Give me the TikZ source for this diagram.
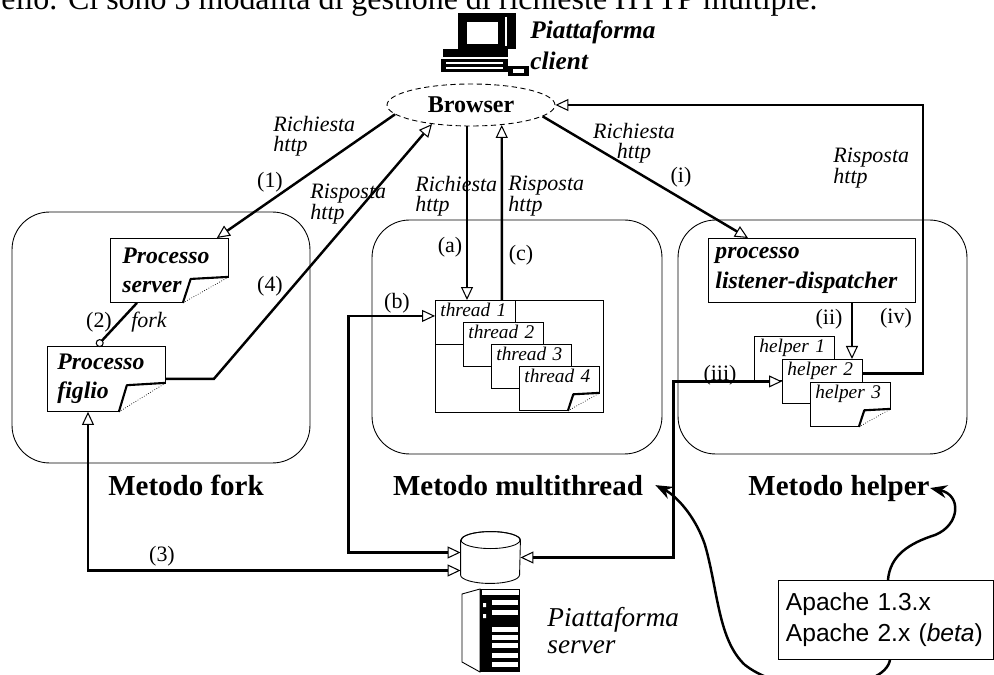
\documentclass[tikz,border=0pt]{standalone}
\usepackage{fontspec}
\setmainfont{Liberation Serif}
\setsansfont{Liberation Sans}
\usepackage{tikz}
\usetikzlibrary{arrows.meta,positioning,shapes.geometric}

% turned-up corner on a box: node, width, height (px)
\newcommand{\dogear}[3]{%
	\fill[white] ([shift={(-#2-1,1)}]#1.south east) -- ([shift={(1,1)}]#1.south east) -- ([shift={(1,-#3-1)}]#1.south east) -- cycle;
	\draw[very thick, fill=white, line join=round] ([shift={(0,-#3)}]#1.south east) -- ([shift={(-0.83*#2,-0.92*#3)}]#1.south east) -- ([shift={(-#2,0)}]#1.south east);
	\draw[densely dotted, thin] ([shift={(-#2,0)}]#1.south east) -- ([shift={(0,-#3)}]#1.south east);
}

\begin{document}
\begin{tikzpicture}[
				x=0.02cm, y=-0.02cm,
				line width=0.5pt,
				>={Triangle[fill=white, length=0.26cm, width=0.24cm, line width=0.6pt]},
				group/.style = {draw, rounded corners=0.75cm, inner sep=0pt},
				proc/.style = {draw, fill=white, anchor=north west, align=left, inner ysep=0pt, font=\fontsize{13.5}{16.5}\selectfont\bfseries\itshape},
				task/.style = {draw, fill=white, anchor=north west, align=left, inner xsep=0.1cm, inner ysep=0.04cm, text width=1.4cm, text height=0.28cm, text depth=0.52cm, font=\fontsize{11}{13}\selectfont\itshape},
				title/.style = {anchor=base, inner sep=0pt, font=\fontsize{16.5}{18}\selectfont\bfseries},
				num/.style = {inner sep=0pt, font=\fontsize{12.5}{14}\selectfont},
				msg/.style = {anchor=north west, align=left, inner sep=0pt, font=\fontsize{12.5}{11.5}\selectfont\itshape},
				send/.style = {->, line width=1.4pt},
				swap/.style = {<->, line width=1.4pt},
				call/.style = {->, line width=0.6pt},
				link/.style = {line width=1.4pt, -{Stealth[length=0.34cm, width=0.26cm]}}
				]
				\useasboundingbox (0,0) rectangle (994,675);
				\clip (0,0) rectangle (994,675);
				
				\node[anchor=base west, inner sep=0pt, font=\fontsize{18.2}{20}\selectfont] (top) at (1,10) {ello. Ci sono 3 modalità di gestione di richieste HTTP multiple.};
				
				\node[group, minimum width=5.96cm, minimum height=5.02cm] (fk) at (161,337.5) {};
				\node[group, minimum width=5.8cm, minimum height=4.68cm] (mt) at (517,337) {};
				\node[group, minimum width=5.78cm, minimum height=4.68cm] (hp) at (822.5,337) {};
				\node[title] (fkl) at (186,495) {Metodo fork};
				\node[title] (mtl) at (518,495) {Metodo multithread};
				\node[title] (hpl) at (839,495) {Metodo helper};
				
				% client workstation
				\fill (458,13) rectangle (516,49);
				\fill[white] (467,22) rectangle (498,44);
				\draw[white, line width=0.8pt] (506,17) -- (506,46);
				\fill (443,49) rectangle (508,57);
				\fill (441,59) rectangle (508,72);
				\draw[white, line width=0.8pt] (446,63) -- (503,63) (446,68) -- (503,68);
				\fill (508,66) rectangle (529,76);
				\fill[white] (513,69) rectangle (524,73);
				\node[anchor=north west, align=left, inner sep=0pt, font=\fontsize{14.4}{18}\selectfont\bfseries\itshape] (cli) at (530,20) {Piattaforma\\client};
				\node[ellipse, draw, densely dashed, fill=white, minimum width=3.36cm, minimum height=0.84cm, inner sep=0pt, font=\fontsize{13.7}{15}\selectfont\bfseries] (br) at (471,105) {Browser};
				
				\node[proc, minimum width=2.36cm, minimum height=1.28cm, inner xsep=0.24cm, text width=1.88cm] (srv) at (110,238) {Processo\\server};
				\node[proc, minimum width=2.36cm, minimum height=1.3cm, inner xsep=0.2cm, text width=1.96cm] (fig) at (47,346) {Processo\\figlio};
				\dogear{srv}{46}{26}
				\dogear{fig}{47}{29}
				
				\node[draw, anchor=north west, minimum width=3.36cm, minimum height=2.24cm, inner sep=0pt] (pool) at (435,300) {};
				\node[task] (t1) at (pool.north west) {thread 1};
				\node[task, below right=0.44cm and 0.56cm of t1.north west] (t2) {thread 2};
				\node[task, below right=0.44cm and 0.56cm of t2.north west] (t3) {thread 3};
				\node[task, below right=0.44cm and 0.56cm of t3.north west] (t4) {thread 4};
				\dogear{t4}{32}{18}
				
				\node[proc, minimum width=4.14cm, minimum height=1.28cm, inner xsep=0.14cm, text width=3.86cm, font=\fontsize{13.5}{17.5}\selectfont\bfseries\itshape] (lst) at (708,238) {processo\\listener-dispatcher};
				\node[task] (h1) at (754,336) {helper 1};
				\node[task, below right=0.46cm and 0.56cm of h1.north west] (h2) {helper 2};
				\node[task, below right=0.46cm and 0.56cm of h2.north west] (h3) {helper 3};
				\dogear{h3}{32}{18}
				
				% server side: disk and cabinet
				\node[minimum width=1.18cm, minimum height=1.02cm, inner sep=0pt] (db) at (490.5,557.5) {};
				\draw[fill=white] ([yshift=-0.17cm]db.north west) -- ([yshift=0.17cm]db.south west) arc[start angle=180, end angle=360, x radius=0.59cm, y radius=0.17cm] -- ([yshift=-0.17cm]db.north east) arc[start angle=0, end angle=180, x radius=0.59cm, y radius=0.17cm] -- cycle;
				\draw ([yshift=-0.17cm]db.north) ellipse [x radius=0.59cm, y radius=0.17cm];
				\draw[fill=white] (462,594) -- (480,589) -- (480,672) -- (462,662) -- cycle;
				\fill (480,589) rectangle (520,672);
				\fill[white] (482,590) rectangle (519,595);
				\foreach \y in {600,610,627,635,643,653,662} \fill[white] (492,\y) rectangle (518,\y+5);
				\fill[white] (483,603) rectangle (486,607) (483,614) rectangle (486,618);
				\node[anchor=north west, align=left, inner sep=0pt, font=\fontsize{15.5}{15.5}\selectfont\itshape] (srvl) at (547,607) {Piattaforma\\server};
				
				\node[draw, fill=white, anchor=north west, align=left, minimum width=4.3cm, minimum height=1.58cm, inner xsep=0.15cm, text width=4.0cm, font=\sffamily\fontsize{14}{17.6}\selectfont] (ap) at (778,580) {Apache 1.3.x\\Apache 2.x (\textit{beta})};
				
				\draw[send] (br.187) -- ([xshift=-0.24cm]srv.north east);
				\draw[line width=1.4pt, -{Circle[open, length=0.16cm, line width=0.6pt]}] ([xshift=0.54cm]srv.south west) -- ([xshift=1cm]fig.north west);
				\draw[swap] ([xshift=0.82cm]fig.south west) |- ([yshift=-0.26cm]db.west);
				\draw[send] (fig.east) -- ++(48,0) -- (br.206);
				\draw[call] ([xshift=-0.08cm]br.south) -- ([xshift=-0.08cm]br.south |- t1.north);
				\draw[send] ([xshift=-0.28cm]t1.north east) -- (br.327);
				\draw[swap] ([yshift=0.1cm]db.west) -- ++(-112,0) |- ([yshift=0.13cm]t1.west);
				\draw[send] (br.351) -- ([xshift=0.8cm]lst.north west);
				\draw[call] ([xshift=2.88cm]lst.south west) -- ([xshift=2.88cm]lst.south west |- h2.north);
				\draw[swap] (db.east) -- ++(153,0) |- (h2.west);
				\draw[send] ([yshift=0.16cm]h2.east) -- ++(60,0) |- (br.east);
				
				\draw[link] ([xshift=2.24cm]ap.south west) .. controls (885,690) and (790,700) .. (745,665) .. controls (718,640) and (718,590) .. (705,545) .. controls (695,515) and (675,495) .. ([xshift=0.24cm]mtl.east);
				\draw[link] ([xshift=2.2cm]ap.north west) .. controls (890,555) and (910,543) .. (935,535) .. controls (960,525) and (962,495) .. (hpl.east);
				
				\node[num] (n1) at (270,182) {(1)};
				\node[num] (n2) at (99,322) {(2)};
				\node[num, font=\fontsize{12.5}{14}\selectfont\itshape] (fork) at (149,322) {fork};
				\node[num] (n3) at (162,556) {(3)};
				\node[num] (n4) at (270,286) {(4)};
				\node[num] (na) at (450,247) {(a)};
				\node[num] (nb) at (397,303) {(b)};
				\node[num] (nc) at (521,255) {(c)};
				\node[num] (ni) at (681,177) {(i)};
				\node[num] (nii) at (829,319) {(ii)};
				\node[num] (niii) at (720,375) {(iii)};
				\node[num] (niv) at (896,318) {(iv)};
				\node[msg] (m1) at (273,116) {Richiesta\\http};
				\node[msg] (m4) at (310,184) {Risposta\\http};
				\node[msg] (ma) at (415,176) {Richiesta\\http};
				\node[msg] (mc) at (508,176) {Risposta\\http};
				\node[msg, anchor=north, align=center] (mi) at (634,123) {Richiesta\\http};
				\node[msg] (miv) at (833,148) {Risposta\\http};
			\end{tikzpicture}
\end{document}
